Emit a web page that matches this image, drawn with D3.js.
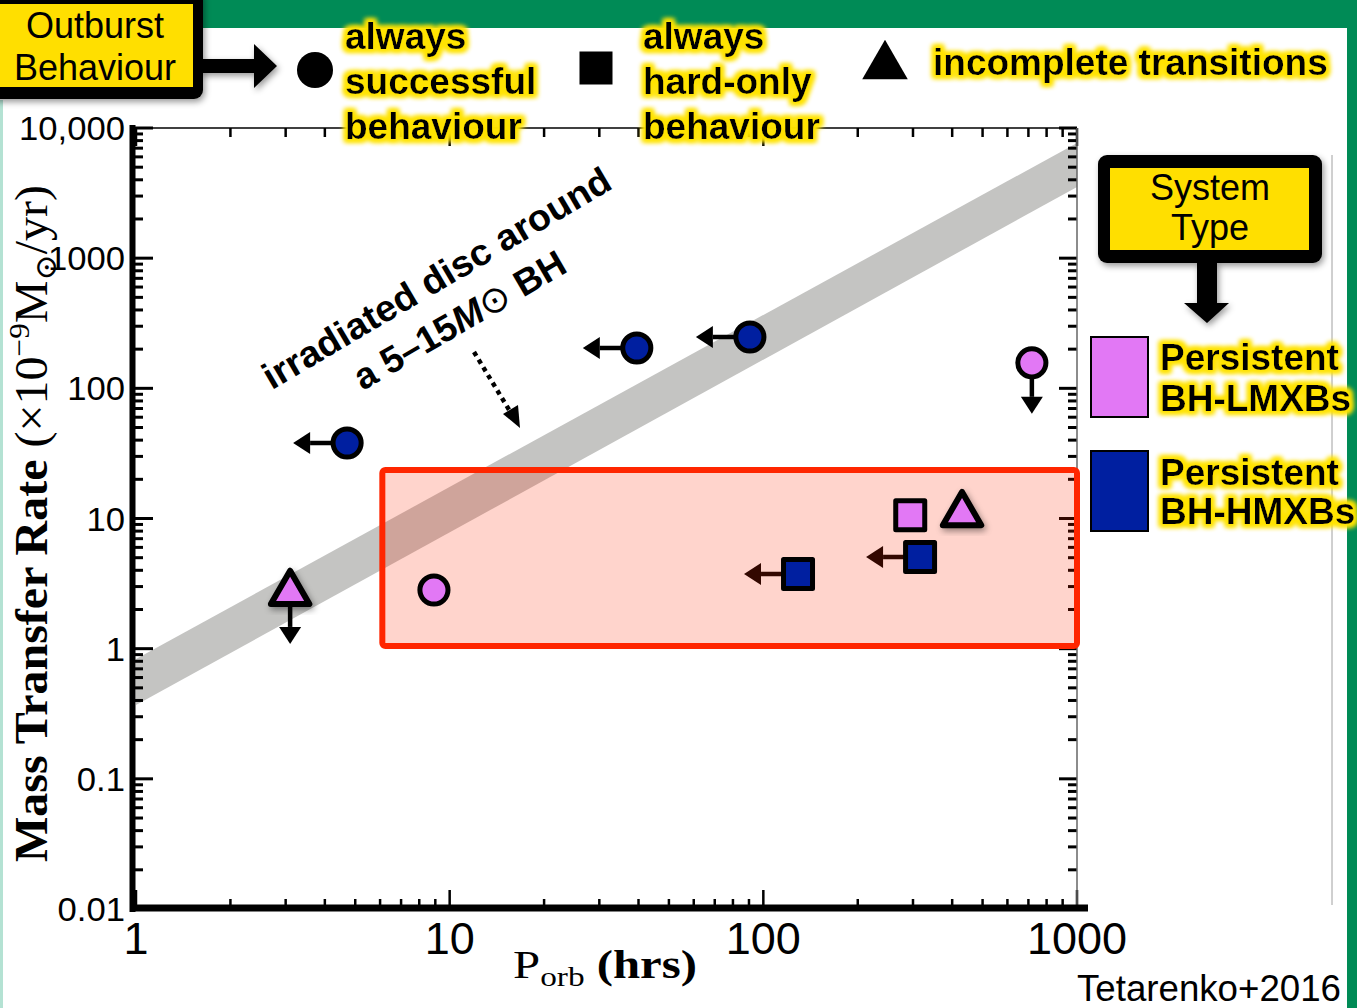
<!DOCTYPE html>
<html>
<head>
<meta charset="utf-8">
<script src="https://cdn.jsdelivr.net/npm/d3@7"></script>
<style>
  html, body { margin: 0; padding: 0; background: #fff; }
  svg { display: block; }
</style>
</head>
<body>
<svg id="chart" width="1357" height="1008"></svg>
<script>
// ---- Data ----------------------------------------------------------------
// Orbital period (hours) and mass-transfer rate (1e-9 Msun/yr) of each system
const periods   = [4.71, 39.5, 90.6, 718, 3.10, 8.91, 294, 430, 316, 129];
const rates     = [38.0, 204, 248, 157, 2.68, 2.82, 10.6, 10.8, 5.06, 3.75];
const behaviour = ["successful", "successful", "successful", "successful", "incomplete",
                   "successful", "hardOnly", "incomplete", "hardOnly", "hardOnly"];
const sysType   = ["HMXB", "HMXB", "HMXB", "LMXB", "LMXB",
                   "LMXB", "LMXB", "LMXB", "HMXB", "HMXB"];
const limits    = ["left", "left", "left", "down", "down",
                   "none", "none", "none", "left", "left"];

// Irradiated-disc stability band (5 and 15 Msun black hole)
const bandP    = [1, 1000];
const bandLow  = [0.369, 3520];
const bandHigh = [0.834, 7670];

// Highlighted region
const boxP    = [6.1, 1000];
const boxRate = [1.05, 23.6];

// Axis ticks
const xTickValues = [1, 10, 100, 1000];
const xTickLabels = ["1", "10", "100", "1000"];
const yTickValues = [0.01, 0.1, 1, 10, 100, 1000, 10000];
const yTickLabels = ["0.01", "0.1", "1", "10", "100", "1000", "10,000"];

// Legends
const behaviourKeys   = ["successful", "hardOnly", "incomplete"];
const behaviourLabels = [["always", "successful", "behaviour"], ["always", "hard-only", "behaviour"], ["incomplete transitions"]];
const typeKeys   = ["LMXB", "HMXB"];
const typeLabels = [["Persistent", "BH-LMXBs"], ["Persistent", "BH-HMXBs"]];

// ---- Setup ---------------------------------------------------------------
const W = 1357, H = 1008;
const PINK = "#e278f5", BLUE = "#001fa0", GREEN = "#008b56";
const fillFor = t => t === "LMXB" ? PINK : BLUE;
const SANS = "'Liberation Sans', Arial, Helvetica, sans-serif";
const SERIF = "'Liberation Serif', 'Times New Roman', serif";

const svg = d3.select("#chart");
const defs = svg.append("defs");

const x = d3.scaleLog().domain([1, 1000]).range([136, 1077]);
const y = d3.scaleLog().domain([0.01, 10000]).range([909, 128]);

defs.append("clipPath").attr("id", "plotClip")
  .append("rect").attr("x", x(1)).attr("y", y(10000))
  .attr("width", x(1000) - x(1)).attr("height", y(0.01) - y(10000));

// yellow halo behind legend text
const glow = defs.append("filter").attr("id", "glow")
  .attr("x", "-10%").attr("y", "-35%").attr("width", "120%").attr("height", "170%");
glow.append("feMorphology").attr("in", "SourceAlpha").attr("operator", "dilate").attr("radius", 3).attr("result", "dil");
glow.append("feGaussianBlur").attr("in", "dil").attr("stdDeviation", 2.8).attr("result", "blur");
glow.append("feFlood").attr("flood-color", "#ffe300").attr("result", "col");
glow.append("feComposite").attr("in", "col").attr("in2", "blur").attr("operator", "in").attr("result", "halo");
const gm = glow.append("feMerge");
gm.append("feMergeNode").attr("in", "halo");
gm.append("feMergeNode").attr("in", "halo");
gm.append("feMergeNode").attr("in", "SourceGraphic");

// soft drop shadow
const shadow = defs.append("filter").attr("id", "shadow")
  .attr("x", "-30%").attr("y", "-30%").attr("width", "160%").attr("height", "160%");
shadow.append("feDropShadow").attr("dx", 2).attr("dy", 3).attr("stdDeviation", 3)
  .attr("flood-color", "#000").attr("flood-opacity", 0.4);

// ---- Page frame ----------------------------------------------------------
svg.append("rect").attr("width", W).attr("height", H).attr("fill", "#fff");
svg.append("rect").attr("x", 0).attr("y", 0).attr("width", W).attr("height", 28).attr("fill", GREEN);
svg.append("rect").attr("x", 1347).attr("y", 0).attr("width", 10).attr("height", H).attr("fill", GREEN);
svg.append("rect").attr("x", 0).attr("y", 100).attr("width", 3).attr("height", H - 100).attr("fill", "#b4e2d3");
svg.append("line").attr("x1", 1332).attr("x2", 1332).attr("y1", 155).attr("y2", 905)
  .attr("stroke", "#a0a0a0").attr("stroke-width", 1);

// ---- Band ----------------------------------------------------------------
const bandData = bandP.map((p, i) => ({ p, lo: bandLow[i], hi: bandHigh[i] }));
svg.append("path")
  .datum(bandData)
  .attr("clip-path", "url(#plotClip)")
  .attr("fill", "#c4c4c2")
  .attr("d", d3.area().x(d => x(d.p)).y0(d => y(d.lo)).y1(d => y(d.hi)));

// ---- Axes ----------------------------------------------------------------
const isMajor = v => Math.abs(Math.log10(v) - Math.round(Math.log10(v))) < 1e-9;
const axes = svg.append("g");
const xt = x.ticks(), yt = y.ticks();

axes.selectAll(".lt").data(yt).join("line")
  .attr("x1", 134).attr("x2", v => 134 + (isMajor(v) ? 19 : 9))
  .attr("y1", v => y(v)).attr("y2", v => y(v))
  .attr("stroke", "#000").attr("stroke-width", 3);
axes.selectAll(".rt").data(yt).join("line")
  .attr("x1", x(1000)).attr("x2", v => x(1000) - (isMajor(v) ? 18 : 9))
  .attr("y1", v => y(v)).attr("y2", v => y(v))
  .attr("stroke", "#000").attr("stroke-width", 3);
axes.selectAll(".tt").data(xt).join("line")
  .attr("x1", v => x(v)).attr("x2", v => x(v))
  .attr("y1", y(10000)).attr("y2", v => y(10000) + (isMajor(v) ? 18 : 9))
  .attr("stroke", "#000").attr("stroke-width", 2.5);
axes.selectAll(".bt").data(xt).join("line")
  .attr("x1", v => x(v)).attr("x2", v => x(v))
  .attr("y1", 906).attr("y2", v => 906 - (isMajor(v) ? 16 : 7))
  .attr("stroke", "#000").attr("stroke-width", 2.5);

axes.append("line").attr("x1", 133).attr("x2", x(1000)).attr("y1", y(10000)).attr("y2", y(10000))
  .attr("stroke", "#000").attr("stroke-width", 1.5);
axes.append("line").attr("x1", x(1000)).attr("x2", x(1000)).attr("y1", y(10000)).attr("y2", y(0.01))
  .attr("stroke", "#666").attr("stroke-width", 1.5);
axes.append("line").attr("x1", 132.5).attr("x2", 132.5).attr("y1", 125).attr("y2", 912)
  .attr("stroke", "#000").attr("stroke-width", 6);
axes.append("line").attr("x1", 130).attr("x2", 1088).attr("y1", 908).attr("y2", 908)
  .attr("stroke", "#000").attr("stroke-width", 7);

// tick labels
axes.selectAll(".xl").data(xTickValues).join("text")
  .attr("x", v => x(v)).attr("y", 954)
  .attr("text-anchor", "middle").attr("font-family", SANS).attr("font-size", 45)
  .attr("fill", "#000")
  .text((v, i) => xTickLabels[i]);
axes.selectAll(".yl").data(yTickValues).join("text")
  .attr("transform", v => `translate(125,${y(v) + 12}) scale(1.05,1)`)
  .attr("text-anchor", "end").attr("font-family", SANS).attr("font-size", 33)
  .attr("fill", "#000")
  .text((v, i) => yTickLabels[i]);

// axis titles
const xTitle = svg.append("text").attr("x", 513).attr("y", 978)
  .attr("font-family", SERIF).attr("font-size", 41).attr("fill", "#000")
  .attr("textLength", 184).attr("lengthAdjust", "spacingAndGlyphs");
xTitle.append("tspan").text("P");
xTitle.append("tspan").attr("dy", 8).attr("font-size", 28).text("orb");
xTitle.append("tspan").attr("dy", -8).text(" ");
xTitle.append("tspan").attr("font-weight", "bold").text("(hrs)");

const yTitle = svg.append("text").attr("transform", "translate(47,862) rotate(-90)")
  .attr("font-family", SERIF).attr("font-size", 46).attr("fill", "#000")
  .attr("textLength", 677).attr("lengthAdjust", "spacingAndGlyphs");
yTitle.append("tspan").attr("font-weight", "bold").text("Mass Transfer Rate");
yTitle.append("tspan").text(" (×10");
yTitle.append("tspan").attr("dy", -18).attr("font-size", 30).text("−9");
yTitle.append("tspan").attr("dy", 18).text("M");
yTitle.append("tspan").attr("dy", 9).attr("font-size", 30).attr("font-family", "'DejaVu Serif', serif").text("⊙");
yTitle.append("tspan").attr("dy", -9).text("/yr)");

// ---- Upper-limit arrows --------------------------------------------------
const pts = periods.map((p, i) => ({
  p, r: rates[i], b: behaviour[i], t: sysType[i], lim: limits[i]
}));

function arrow(g, x0, y0, x1, y1) {
  const ang = Math.atan2(y1 - y0, x1 - x0);
  const hl = 17, hw = 11;
  const bx = x1 - hl * Math.cos(ang), by = y1 - hl * Math.sin(ang);
  g.append("line").attr("x1", x0).attr("y1", y0).attr("x2", bx).attr("y2", by)
    .attr("stroke", "#000").attr("stroke-width", 4.5);
  const px = -Math.sin(ang) * hw, py = Math.cos(ang) * hw;
  g.append("path")
    .attr("d", `M${x1},${y1}L${bx + px},${by + py}L${bx - px},${by - py}Z`)
    .attr("fill", "#000");
}
const arrowG = svg.append("g");
pts.forEach(d => {
  const cx = x(d.p), cy = y(d.r);
  if (d.lim === "left") arrow(arrowG, cx, cy, cx - 54, cy);
  if (d.lim === "down") arrow(arrowG, cx, cy, cx, cy + 51);
});

// ---- Highlighted region --------------------------------------------------
svg.append("rect")
  .attr("x", x(boxP[0])).attr("y", y(boxRate[1]))
  .attr("width", x(boxP[1]) - x(boxP[0])).attr("height", y(boxRate[0]) - y(boxRate[1]))
  .attr("rx", 3)
  .attr("fill", "rgba(255,40,0,0.2)")
  .attr("stroke", "#ff2600").attr("stroke-width", 6);

// ---- Markers -------------------------------------------------------------
const symFor = { successful: d3.symbolCircle, hardOnly: d3.symbolSquare, incomplete: d3.symbolTriangle };
const sizeFor = { successful: 620, hardOnly: 841, incomplete: 640 };
svg.append("g").selectAll("path").data(pts).join("path")
  .attr("transform", d => `translate(${x(d.p)},${y(d.r)})`)
  .attr("d", d => d3.symbol(symFor[d.b], sizeFor[d.b])())
  .attr("fill", d => fillFor(d.t))
  .attr("stroke", "#000").attr("stroke-width", d => d.b === "incomplete" ? 6 : 5)
  .attr("stroke-linejoin", "round")
  .attr("filter", d => d.b === "incomplete" ? "url(#shadow)" : null);

// ---- Annotation ----------------------------------------------------------
const ann = svg.append("g").attr("font-family", SANS).attr("font-weight", "bold")
  .attr("font-size", 37).attr("fill", "#000").attr("text-anchor", "middle");
ann.append("text").attr("transform", "translate(443,289) rotate(-30.6)")
  .attr("textLength", 398).attr("lengthAdjust", "spacingAndGlyphs")
  .text("irradiated disc around");
const ann2 = ann.append("text").attr("transform", "translate(466,331) rotate(-30.2)");
ann2.append("tspan").text("a 5–15");
ann2.append("tspan").attr("font-style", "italic").text("M");
ann2.append("tspan").attr("font-weight", "normal").attr("font-family", "'DejaVu Sans', sans-serif").text("⊙");
ann2.append("tspan").text(" BH");

// dotted pointer
svg.append("line").attr("x1", 474).attr("y1", 352).attr("x2", 511).attr("y2", 413)
  .attr("stroke", "#000").attr("stroke-width", 4.5).attr("stroke-dasharray", "4.5,4.5");
svg.append("path").attr("d", "M520,428L503,414L518,405Z").attr("fill", "#000");

// ---- Outburst behaviour legend --------------------------------------------
const ob = svg.append("g");
ob.append("rect").attr("x", -12).attr("y", -12).attr("width", 215).attr("height", 111)
  .attr("rx", 9).attr("fill", "#000").attr("filter", "url(#shadow)");
ob.append("rect").attr("x", -5).attr("y", 4).attr("width", 198).attr("height", 83).attr("fill", "#ffdf00");
ob.append("text").attr("x", 95).attr("y", 38).attr("text-anchor", "middle")
  .attr("font-family", SANS).attr("font-size", 36).text("Outburst");
ob.append("text").attr("x", 95).attr("y", 80).attr("text-anchor", "middle")
  .attr("font-family", SANS).attr("font-size", 36).text("Behaviour");
ob.append("path").attr("d", "M200,59L254,59L254,44L277,66L254,88L254,73L200,73Z")
  .attr("fill", "#000").attr("filter", "url(#shadow)");

const legSymX = [315, 596, 885];
const legSymY = [70, 68, 66];
const legSize = [1020, 1090, 900];
const legTextX = [345, 643, 933];
behaviourKeys.forEach((k, i) => {
  ob.append("path").attr("transform", `translate(${legSymX[i]},${legSymY[i]})`)
    .attr("d", d3.symbol(symFor[k], legSize[i])()).attr("fill", "#000");
  const lines = behaviourLabels[i];
  lines.forEach((s, j) => {
    ob.append("text")
      .attr("x", legTextX[i])
      .attr("y", lines.length === 1 ? 75 : 49 + j * 45)
      .attr("font-family", SANS).attr("font-weight", "bold").attr("font-size", 37)
      .attr("fill", "#000").attr("filter", "url(#glow)")
      .text(s);
  });
});

// ---- System type legend --------------------------------------------------
const st = svg.append("g");
st.append("rect").attr("x", 1098).attr("y", 155).attr("width", 224).attr("height", 108)
  .attr("rx", 9).attr("fill", "#000").attr("filter", "url(#shadow)");
st.append("rect").attr("x", 1110).attr("y", 168).attr("width", 199).attr("height", 82).attr("fill", "#ffdf00");
st.append("text").attr("x", 1210).attr("y", 200).attr("text-anchor", "middle")
  .attr("font-family", SANS).attr("font-size", 36).text("System");
st.append("text").attr("x", 1210).attr("y", 240).attr("text-anchor", "middle")
  .attr("font-family", SANS).attr("font-size", 36).text("Type");
st.append("path").attr("d", "M1197,262L1217,262L1217,303L1229,303L1207,323L1184,303L1197,303Z")
  .attr("fill", "#000").attr("filter", "url(#shadow)");

const swY = [337, 451];
const txtY = [[370, 411], [485, 524]];
typeKeys.forEach((k, i) => {
  st.append("rect").attr("x", 1091).attr("y", swY[i]).attr("width", 57).attr("height", 80)
    .attr("fill", fillFor(k)).attr("stroke", "#000").attr("stroke-width", 2);
  typeLabels[i].forEach((s, j) => {
    st.append("text").attr("x", 1160).attr("y", txtY[i][j])
      .attr("font-family", SANS).attr("font-weight", "bold").attr("font-size", 37)
      .attr("fill", "#000").attr("filter", "url(#glow)")
      .text(s);
  });
});

// ---- Credit --------------------------------------------------------------
svg.append("text").attr("x", 1077).attr("y", 1001)
  .attr("font-family", SANS).attr("font-size", 37).attr("fill", "#000")
  .attr("textLength", 264).attr("lengthAdjust", "spacingAndGlyphs")
  .text("Tetarenko+2016");
</script>
</body>
</html>
